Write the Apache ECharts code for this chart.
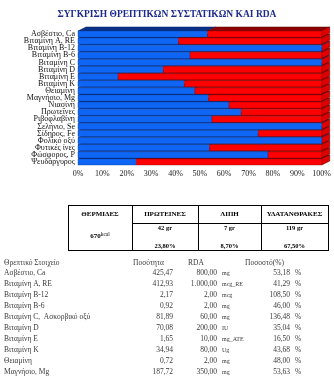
<!DOCTYPE html>
<html><head><meta charset="utf-8">
<script src="https://cdn.jsdelivr.net/npm/echarts@6/dist/echarts.min.js"></script>
<style>html,body{margin:0;padding:0;background:#fff}#c{width:334px;height:378px}</style>
</head><body><div id="c"></div>
<script>
// ---- chart data (top to bottom as in picture) ----
const categories = ['Ασβέστιο, Ca','Βιταμίνη A, RE','Βιταμίνη B-12','Βιταμίνη B-6','Βιταμίνη C','Βιταμίνη D','Βιταμίνη E','Βιταμίνη K','Θειαμίνη','Μαγνήσιο, Mg','Νιασίνη','Πρωτεΐνες','Ριβοφλαβίνη','Σελήνιο, Se','Σίδηρος, Fe','Φολικό οξύ','Φυτικές ίνες','Φώσφορος, P','Ψευδάργυρος'];
const blueShare = [53.18,41.29,100,46.00,100,35.04,16.50,43.68,48.00,53.63,62,67,55,100,74,100,54,78,24];
const redShare  = [46.82,58.71,0,54.00,0,64.96,83.50,56.32,52.00,46.37,38,33,45,0,26,0,46,22,76];
const chartTitle = 'ΣΥΓΚΡΙΣΗ ΘΡΕΠΤΙΚΩΝ ΣΥΣΤΑΤΙΚΩΝ ΚΑΙ RDA';

// ---- energy table ----
const calTitle = 'ΘΕΡΜΙΔΕΣ';
const calories = '670';
const calUnit = 'kcal';
const macroNames = ['ΠΡΩΤΕΙΝΕΣ','ΛΙΠΗ','ΥΔΑΤΑΝΘΡΑΚΕΣ'];
const macroGrams = ['42 gr','7 gr','119 gr'];
const macroPct = ['23,80%','8,70%','67,50%'];

// ---- nutrient list ----
const listHeader = ['Θρεπτικό Στοιχείο','Ποσότητα','RDA','Ποσοστό(%)'];
const nutNames = ['Ασβέστιο, Ca','Βιταμίνη A, RE','Βιταμίνη B-12','Βιταμίνη B-6','Βιταμίνη C,  Ασκορβικό οξύ','Βιταμίνη D','Βιταμίνη E','Βιταμίνη K','Θειαμίνη','Μαγνήσιο, Mg'];
const nutAmount = ['425,47','412,93','2,17','0,92','81,89','70,08','1,65','34,94','0,72','187,72'];
const nutRDA = ['800,00','1.000,00','2,00','2,00','60,00','200,00','10,00','80,00','2,00','350,00'];
const nutUnit = ['mg','mcg_RE','mcg','mg','mg','IU','mg_ATE','Ug','mg','mg'];
const nutPct = ['53,18','41,29','108,50','46,00','136,48','35,04','16,50','43,68','48,00','53,63'];

const FONT = '"Liberation Serif", "DejaVu Serif", serif';
const DX = 8, DY = 4;

// bottom-first order so upper bars are painted over lower bars' top faces
const yCats = categories.slice().reverse();
const seriesData = yCats.map((c, i) => {
  const k = categories.length - 1 - i;
  return [i, blueShare[k], redShare[k]];
});

function renderItem(params, api) {
  const idx = api.value(0), b = api.value(1), r = api.value(2);
  const p0 = api.coord([0, idx]);
  const p1 = api.coord([b, idx]);
  const p2 = api.coord([b + r, idx]);
  const band = api.size([0, 1])[1];
  const h = band * 0.86;
  const yT = p0[1] - h / 2;
  const kids = [];
  if (b > 0) kids.push({type:'polygon', shape:{points:[[p0[0],yT],[p1[0],yT],[p1[0]+DX,yT-DY],[p0[0]+DX,yT-DY]]}, style:{fill:'#0a2f86', stroke:'#06205e', lineWidth:0.5}});
  if (r > 0) kids.push({type:'polygon', shape:{points:[[p1[0],yT],[p2[0],yT],[p2[0]+DX,yT-DY],[p1[0]+DX,yT-DY]]}, style:{fill:'#8c0000', stroke:'#600000', lineWidth:0.5}});
  kids.push({type:'polygon', shape:{points:[[p2[0],yT],[p2[0]+DX,yT-DY],[p2[0]+DX,yT-DY+h],[p2[0],yT+h]]}, style:{fill:'#e00000', stroke:'#6a0000', lineWidth:0.6}});
  if (b > 0) kids.push({type:'rect', shape:{x:p0[0], y:yT, width:p1[0]-p0[0], height:h}, style:{fill:'#0f66f5', stroke:'#0a3f9e', lineWidth:0.4}});
  if (r > 0) kids.push({type:'rect', shape:{x:p1[0], y:yT, width:p2[0]-p1[0], height:h}, style:{fill:'#ff0000', stroke:'#8c0000', lineWidth:0.4}});
  return {type:'group', children:kids};
}

// graphic elements: table + list
const g = [];
g.push({type:'text', left:'center', top:10, style:{text:chartTitle, font:'bold 9.5px '+FONT, fill:'#1c2a8c'}});

// table geometry
const tx = [68, 132, 198, 261, 328];
const tTop = 205, tMid = 223, tBot = 250;
const line = (x1,y1,x2,y2) => ({type:'line', shape:{x1,y1,x2,y2}, style:{stroke:'#000', lineWidth:1}});
g.push(line(tx[0], tTop+0.5, tx[4], tTop+0.5));
g.push(line(tx[0], tBot+0.5, tx[4], tBot+0.5));
g.push(line(tx[1], tMid+0.5, tx[4], tMid+0.5));
tx.forEach(x => g.push(line(x+0.5, tTop, x+0.5, tBot+1)));
const ctr = i => (tx[i] + tx[i+1]) / 2;
g.push({type:'text', x:ctr(0), y:214, style:{text:calTitle, font:'bold 7px '+FONT, fill:'#000', align:'center', verticalAlign:'middle'}});
g.push({type:'text', x:ctr(0), y:236, style:{text:'{a|'+calories+'}{b|'+calUnit+'}', rich:{a:{font:'bold 7px '+FONT, fill:'#000'}, b:{font:'5.5px '+FONT, fill:'#000', verticalAlign:'top', padding:[0,0,3,0]}}, align:'center', verticalAlign:'middle'}});
macroNames.forEach((n, i) => {
  g.push({type:'text', x:ctr(i+1), y:214, style:{text:n, font:'bold 7px '+FONT, fill:'#000', align:'center', verticalAlign:'middle'}});
  g.push({type:'text', x:ctr(i+1), y:228, style:{text:macroGrams[i], font:'bold 6.5px '+FONT, fill:'#000', align:'center', verticalAlign:'middle'}});
  g.push({type:'text', x:ctr(i+1), y:246, style:{text:macroPct[i], font:'bold 6.5px '+FONT, fill:'#000', align:'center', verticalAlign:'middle'}});
});

// list
const LF = '7.5px ' + FONT, LC = '#3a3a3a';
const hy = 263, step = 11;
const txt = (s, x, y, align) => ({type:'text', x, y, style:{text:s, font:LF, fill:LC, align, verticalAlign:'middle'}});
g.push(txt(listHeader[0], 4, hy, 'left'));
g.push(txt(listHeader[1], 133, hy, 'left'));
g.push(txt(listHeader[2], 188, hy, 'left'));
g.push(txt(listHeader[3], 245, hy, 'left'));
nutNames.forEach((n, i) => {
  const y = hy + 10 + i * step;
  g.push(txt(n, 4, y, 'left'));
  g.push(txt(nutAmount[i], 173, y, 'right'));
  g.push(txt(nutRDA[i], 217, y, 'right'));
  g.push({type:'text', x:222, y, style:{text:nutUnit[i], font:'6px '+FONT, fill:LC, align:'left', verticalAlign:'middle'}});
  g.push(txt(nutPct[i], 290, y, 'right'));
  g.push(txt('%', 295, y, 'left'));
});

const chart = echarts.init(document.getElementById('c'), null, {renderer:'canvas'});
chart.setOption({
  animation:false,
  backgroundColor:'#fff',
  grid:{left:78, right:12, top:30.5, bottom:212.5},
  xAxis:{type:'value', min:0, max:100, interval:10,
    axisLabel:{formatter:'{value}%', fontFamily:FONT, fontSize:8, color:'#222', margin:4},
    axisLine:{show:false}, axisTick:{show:false}, splitLine:{show:false}},
  yAxis:{type:'category', data:yCats,
    axisLabel:{fontFamily:FONT, fontSize:8, color:'#111', margin:3, interval:0},
    axisLine:{show:false}, axisTick:{show:false}, splitLine:{show:false}},
  series:[{type:'custom', renderItem, data:seriesData, encode:{x:[1,2], y:0}, clip:false}],
  graphic:g
});
</script></body></html>
